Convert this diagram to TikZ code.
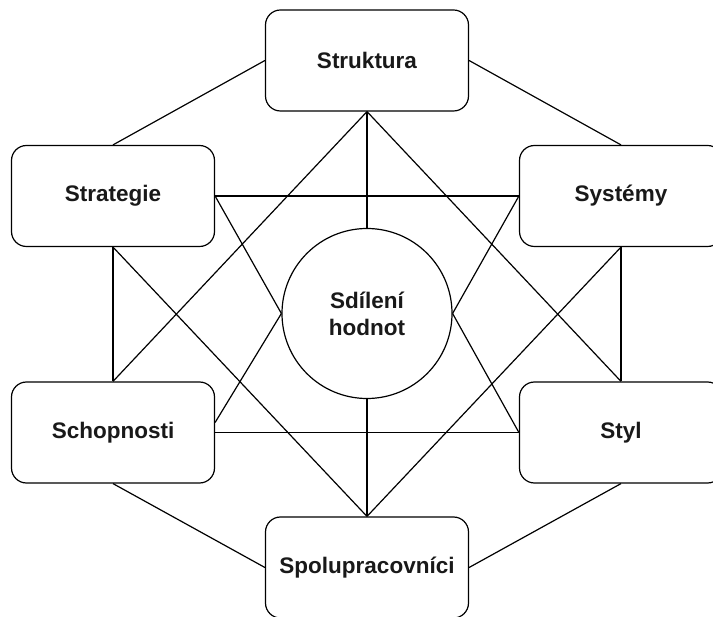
\documentclass[tikz,border=0pt]{standalone}
\usepackage{fontspec}
\setmainfont{Liberation Sans}
\begin{document}
\begin{tikzpicture}[x=1pt,y=-1pt,
  lbl/.style={font=\fontsize{22.5}{27}\selectfont\bfseries, text=black!90},
  box/.style={lbl, draw, rounded corners=15pt, minimum width=203pt, minimum height=101pt, inner sep=0pt, line width=1.2pt, fill=white},
  hub/.style={lbl, draw, circle, minimum size=170pt, inner sep=0pt, align=center, line width=1.2pt, fill=white},
  link/.style={line width=1.2pt}]
\useasboundingbox (0,0) rectangle (713,617);
\clip (0,0) rectangle (713,617);
\node[box] (struk) at (367,60.5) {Struktura};
\node[box] (strat) at (113,196) {Strategie};
\node[box] (syst) at (621,196) {Systémy};
\node[box] (schop) at (113,432.5) {Schopnosti};
\node[box] (styl) at (621,432.5) {Styl};
\node[box] (spol) at (367,567.5) {Spolupracovníci};
\node[hub] (circ) at (367,313.5) {Sdílení\\hodnot};
\draw[link] (struk.west) -- (strat.north);
\draw[link] (struk.east) -- (syst.north);
\draw[link] (struk.south) -- (circ.north);
\draw[link] (struk.south) -- (schop.north);
\draw[link] (struk.south) -- (styl.north);
\draw[link] (strat.east) -- (syst.west);
\draw[link] (strat.east) -- (circ.west);
\draw[link] (strat.south) -- (schop.north);
\draw[link] (strat.south) -- (spol.north);
\draw[link] (syst.west) -- (circ.east);
\draw[link] (syst.south) -- (styl.north);
\draw[link] (syst.south) -- (spol.north);
\draw[link] (circ.west) -- ([yshift=10pt]schop.east);
\draw[link] (circ.east) -- (styl.west);
\draw[link] (circ.south) -- (spol.north);
\draw[link] (schop.east) -- (styl.west);
\draw[link] (schop.south) -- (spol.west);
\draw[link] (styl.south) -- (spol.east);
\end{tikzpicture}
\end{document}
